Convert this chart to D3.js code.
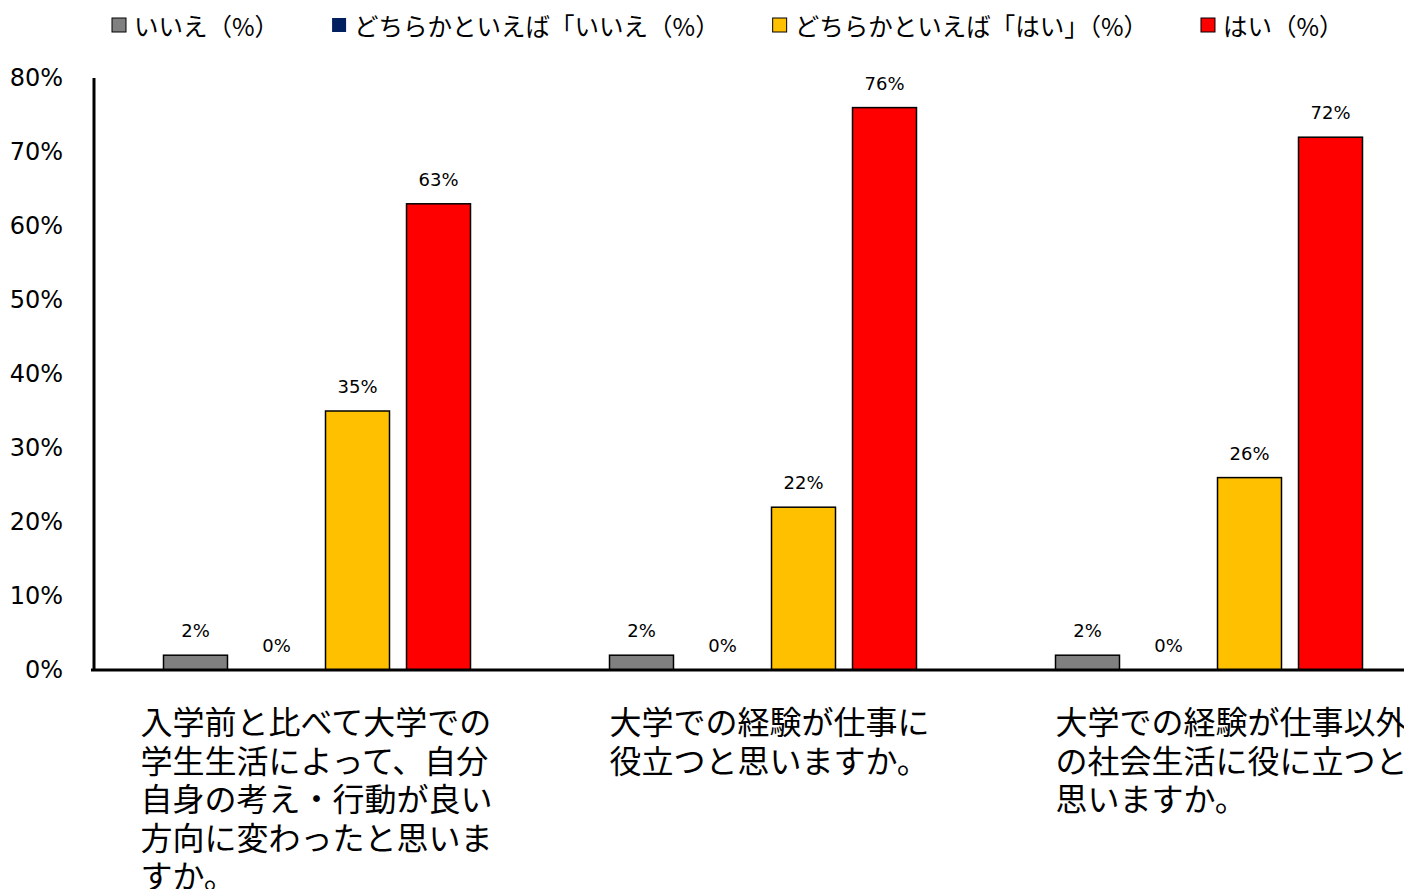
<!DOCTYPE html>
<html lang="ja">
<head>
<meta charset="utf-8">
<script src="https://cdn.jsdelivr.net/npm/d3@7"></script>
<style>
  html, body { margin: 0; padding: 0; background: #fff; overflow: hidden; }
  svg { display: block; }
</style>
</head>
<body>
<svg id="chart" width="1404" height="889"></svg>
<script>
// Survey questions (x categories), each drawn as a wrapped multi-line label
const categories = ["q1", "q2", "q3"];
const categoryLines = [
  ["入学前と比べて大学での", "学生生活によって、自分", "自身の考え・行動が良い", "方向に変わったと思いま", "すか。"],
  ["大学での経験が仕事に", "役立つと思いますか。"],
  ["大学での経験が仕事以外", "の社会生活に役に立つと", "思いますか。"]
];

// Answer series
const seriesNames = [
  "いいえ（%）",
  "どちらかといえば「いいえ（%）",
  "どちらかといえば「はい」（%）",
  "はい（%）"
];
const seriesColors = ["#808080", "#002060", "#FFC000", "#FF0000"];

// Percent values per series, one entry per question
const valuesNo = [2, 2, 2];
const valuesRatherNo = [0, 0, 0];
const valuesRatherYes = [35, 22, 26];
const valuesYes = [63, 76, 72];

const yTicks = [0, 10, 20, 30, 40, 50, 60, 70, 80];

const seriesValues = [valuesNo, valuesRatherNo, valuesRatherYes, valuesYes];

const svg = d3.select("#chart");
const jpFont = "'Noto Sans CJK JP', 'Noto Sans', sans-serif";
const numFont = "'DejaVu Sans', Verdana, sans-serif";

// Plot area (the last band runs past the right edge of the page)
const plot = { left: 94, right: 1432, top: 78, bottom: 670 };

const x0 = d3.scaleBand()
  .domain(categories)
  .range([plot.left, plot.right])
  .padding(0);

const x1 = d3.scaleBand()
  .domain(d3.range(seriesNames.length))
  .range([0, x0.bandwidth()])
  .paddingInner(0.21)
  .paddingOuter(0.858);

const y = d3.scaleLinear()
  .domain([0, 80])
  .range([plot.bottom, plot.top]);

// Y axis labels (no tick marks or gridlines)
const yAxis = d3.axisLeft(y)
  .tickValues(yTicks)
  .tickSize(0)
  .tickPadding(31)
  .tickFormat(d => d + "%");

const yAxisG = svg.append("g")
  .attr("transform", `translate(${plot.left},0)`)
  .call(yAxis);
yAxisG.select(".domain").remove();
yAxisG.selectAll("text")
  .attr("font-family", numFont)
  .attr("font-size", 24)
  .attr("fill", "#000");

// Bars
const groups = svg.append("g")
  .selectAll("g")
  .data(categories)
  .join("g")
  .attr("transform", d => `translate(${x0(d)},0)`);

const barData = (c, ci) => seriesValues.map((vals, si) => ({ si, v: vals[ci] }));

groups.selectAll("rect")
  .data((c, ci) => barData(c, ci))
  .join("rect")
  .attr("x", d => x1(d.si))
  .attr("width", x1.bandwidth())
  .attr("y", d => y(d.v))
  .attr("height", d => y(0) - y(d.v))
  .attr("fill", d => seriesColors[d.si])
  .attr("stroke", "#000")
  .attr("stroke-width", 1.5);

// Value labels above each bar
groups.selectAll("text.value")
  .data((c, ci) => barData(c, ci))
  .join("text")
  .attr("class", "value")
  .attr("x", d => x1(d.si) + x1.bandwidth() / 2)
  .attr("y", d => y(d.v) - 18)
  .attr("text-anchor", "middle")
  .attr("font-family", numFont)
  .attr("font-size", 18)
  .attr("fill", "#000")
  .text(d => d.v + "%");

// Axis lines
svg.append("line")
  .attr("x1", plot.left).attr("x2", plot.left)
  .attr("y1", plot.top).attr("y2", plot.bottom)
  .attr("stroke", "#000").attr("stroke-width", 3);
svg.append("line")
  .attr("x1", plot.left - 3).attr("x2", plot.right)
  .attr("y1", plot.bottom).attr("y2", plot.bottom)
  .attr("stroke", "#000").attr("stroke-width", 3);

// Category labels, left aligned under each group
const labelShift = [-23, 0, 0];
const catLabels = svg.append("g")
  .selectAll("text")
  .data(categories)
  .join("text")
  .attr("font-family", jpFont)
  .attr("font-size", 32)
  .attr("fill", "#000")
  .attr("dominant-baseline", "central")
  .attr("transform", (d, i) => `translate(${x0(d) + x1(0) + labelShift[i]},720)`);

catLabels.selectAll("tspan")
  .data((d, i) => categoryLines[i])
  .join("tspan")
  .attr("x", 0)
  .attr("y", (d, i) => i * 38.5)
  .text(d => d);

// Legend along the top
const legend = svg.append("g");
let lx = 112;
seriesNames.forEach((name, i) => {
  const item = legend.append("g").attr("transform", `translate(${lx},0)`);
  item.append("rect")
    .attr("x", 0).attr("y", 18)
    .attr("width", 14).attr("height", 14)
    .attr("fill", seriesColors[i])
    .attr("stroke", i === 1 ? "none" : "#000")
    .attr("stroke-width", 1);
  const t = item.append("text")
    .attr("x", 22).attr("y", 25)
    .attr("dominant-baseline", "central")
    .attr("font-family", jpFont)
    .attr("font-size", 24.5)
    .attr("fill", "#000")
    .text(name);
  lx += 22 + t.node().getComputedTextLength() + 53;
});
</script>
</body>
</html>
